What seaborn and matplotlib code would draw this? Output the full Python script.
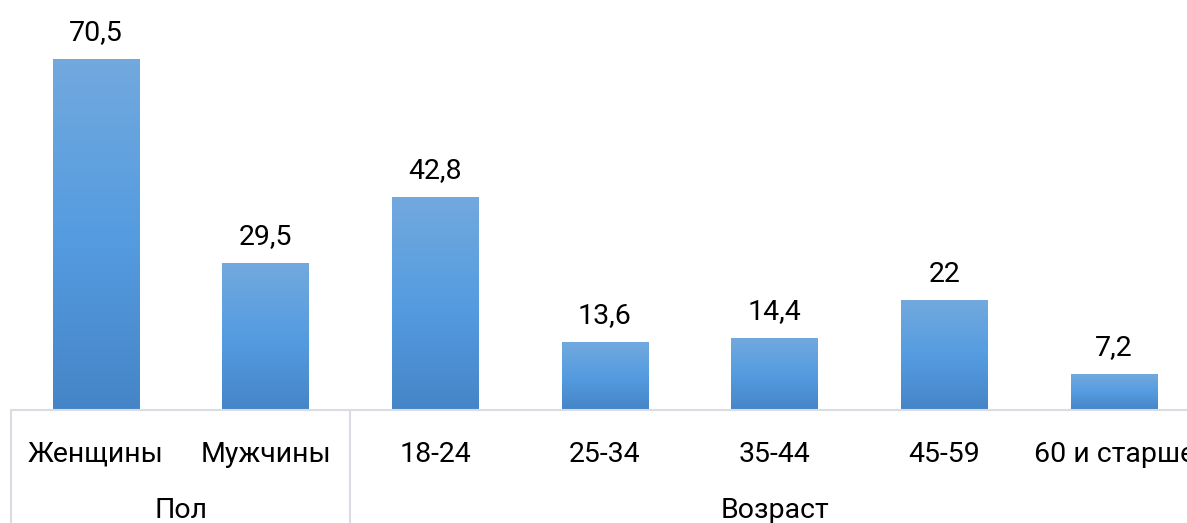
import numpy as np
import pandas as pd
import matplotlib
matplotlib.use("Agg")
import matplotlib.pyplot as plt
import seaborn as sns
from matplotlib.colors import LinearSegmentedColormap
from matplotlib.transforms import blended_transform_factory

categories = ["Женщины", "Мужчины", "18-24", "25-34", "35-44", "45-59", "60 и старше"]
values = [70.5, 29.5, 42.8, 13.6, 14.4, 22, 7.2]
groups = ["Пол", "Пол", "Возраст", "Возраст", "Возраст", "Возраст", "Возраст"]

sns.set_theme(style="white")
plt.rcParams["font.family"] = ["Roboto", "Liberation Sans", "DejaVu Sans"]
FS = 20.5

df = pd.DataFrame({"cat": categories, "val": values, "grp": groups})

fig = plt.figure(figsize=(11.87, 5.23), dpi=100)
ax = fig.add_axes([11 / 1187, 113 / 523, 1188 / 1187, 410 / 523])

sns.barplot(data=df, x="cat", y="val", order=categories, color="#5b9bd5",
            width=0.51, ax=ax, errorbar=None, saturation=1)

# gradient fill, lighter at top and darker at bottom
grad = LinearSegmentedColormap.from_list("g", ["#4585c7", "#559ce0", "#72a9de"])
for p in ax.patches:
    x0, y0 = p.get_x(), p.get_y()
    w, h = p.get_width(), p.get_height()
    img = ax.imshow(np.linspace(0, 1, 256).reshape(-1, 1), cmap=grad,
                    extent=[x0, x0 + w, y0, y0 + h], origin="lower",
                    aspect="auto", zorder=p.get_zorder() + 0.1)
    img.set_clip_path(p)

for i, v in enumerate(values):
    label = f"{v:g}".replace(".", ",")
    ax.annotate(label, (i, v), xytext=(0, 19), textcoords="offset points",
                ha="center", va="center", fontsize=FS, color="black")

ax.set_xlim(-0.5, len(categories) - 0.5)
ax.set_ylim(0, 82.3)
ax.set_xlabel("")
ax.set_ylabel("")
ax.set_yticks([])
ax.set_xticklabels(categories, fontsize=FS, color="black")
ax.tick_params(axis="x", length=0, pad=22)
for s in ["top", "left", "right"]:
    ax.spines[s].set_visible(False)
ax.spines["bottom"].set_color("#d9dde3")
ax.spines["bottom"].set_linewidth(1.5)

# group separators and group labels
tr = blended_transform_factory(ax.transData, ax.transAxes)
bounds = [-0.5]
names = []
for i, g in enumerate(groups):
    if i == 0 or g != groups[i - 1]:
        names.append(g)
        if i > 0:
            bounds.append(i - 0.5)
bounds.append(len(groups) - 0.5)
for b in bounds:
    ax.plot([b, b], [0, -0.3], transform=tr, color="#d9dde3", lw=1.5, clip_on=False)
for k, name in enumerate(names):
    ax.text((bounds[k] + bounds[k + 1]) / 2, -0.245, name, transform=tr,
            ha="center", va="center", fontsize=FS, color="black")

fig.savefig("out.png", dpi=100)
